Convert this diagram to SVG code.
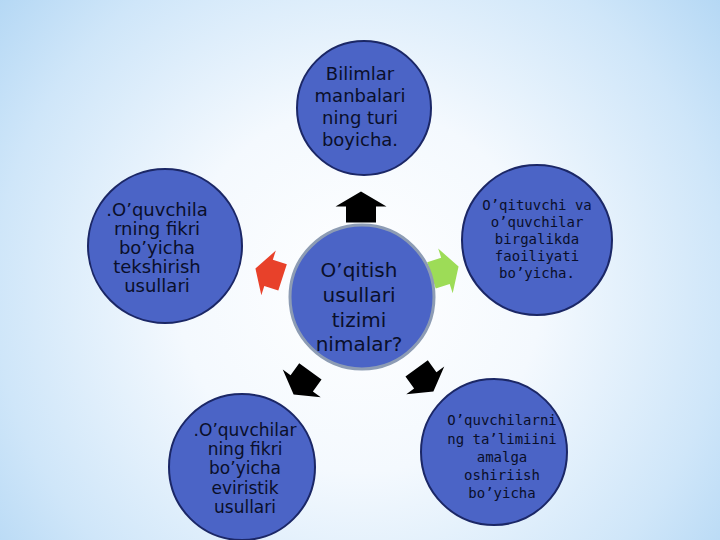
<svg xmlns="http://www.w3.org/2000/svg" width="720" height="540" viewBox="0 0 720 540">
  <defs>
    <radialGradient id="bg" cx="360" cy="290" r="520" gradientUnits="userSpaceOnUse">
      <stop offset="0" stop-color="#ffffff"/>
      <stop offset="0.35" stop-color="#f4f9fe"/>
      <stop offset="0.7" stop-color="#cfe6f9"/>
      <stop offset="1" stop-color="#a6d0f2"/>
    </radialGradient>
    <path id="arrow" d="M0,-15.5 L25.5,-0.5 L15,-0.5 L15,15.5 L-15,15.5 L-15,-0.5 L-25.5,-0.5 Z"/>
    <style>
      .node { fill: #4b64c6; stroke: #1b2766; stroke-width: 2; }
      .hub { fill: #4b64c6; stroke: #8d9cb4; stroke-width: 3; }
      .t { font-family: "DejaVu Sans", "Liberation Sans", sans-serif; fill: #0a0f2a; text-anchor: middle; }
      .m { font-family: "DejaVu Sans Mono", "Liberation Mono", monospace; fill: #0a0f2a; text-anchor: middle; font-size: 14px; }
    </style>
  </defs>
  <rect x="0" y="0" width="720" height="540" fill="url(#bg)"/>

  <g id="connectors">
    <use href="#arrow" fill="#000000" transform="translate(361,207)"/>
    <use href="#arrow" fill="#9ddc57" transform="translate(445,271) rotate(72) scale(0.92)"/>
    <use href="#arrow" fill="#000000" transform="translate(425,380) rotate(144) scale(0.92)"/>
    <use href="#arrow" fill="#000000" transform="translate(302,383) rotate(-144) scale(0.92)"/>
    <use href="#arrow" fill="#e8412a" transform="translate(269,273) rotate(-72) scale(0.92)"/>
  </g>

  <g id="node-top">
    <circle class="node" cx="364" cy="108" r="67"/>
    <text class="t" font-size="18" x="360" y="80">Bilimlar</text>
    <text class="t" font-size="18" x="360" y="102">manbalari</text>
    <text class="t" font-size="18" x="360" y="124">ning turi</text>
    <text class="t" font-size="18" x="360" y="146">boyicha.</text>
  </g>

  <g id="node-left">
    <circle class="node" cx="165" cy="246" r="77"/>
    <text class="t" font-size="18" x="157" y="216">.O’quvchila</text>
    <text class="t" font-size="18" x="157" y="235">rning fikri</text>
    <text class="t" font-size="18" x="157" y="254">bo’yicha</text>
    <text class="t" font-size="18" x="157" y="273">tekshirish</text>
    <text class="t" font-size="18" x="157" y="292">usullari</text>
  </g>

  <g id="node-center">
    <circle class="hub" cx="362" cy="297" r="72"/>
    <text class="t" font-size="20" x="359" y="277">O’qitish</text>
    <text class="t" font-size="20" x="359" y="302">usullari</text>
    <text class="t" font-size="20" x="359" y="327">tizimi</text>
    <text class="t" font-size="20" x="359" y="351">nimalar?</text>
  </g>

  <g id="node-right">
    <circle class="node" cx="537" cy="240" r="75"/>
    <text class="m" x="537" y="210">O’qituvchi va</text>
    <text class="m" x="537" y="227">o’quvchilar</text>
    <text class="m" x="537" y="244">birgalikda</text>
    <text class="m" x="537" y="261">faoiliyati</text>
    <text class="m" x="537" y="278">bo’yicha.</text>
  </g>

  <g id="node-bottom-left">
    <circle class="node" cx="242" cy="467" r="73"/>
    <text class="t" font-size="17" x="245" y="436">.O’quvchilar</text>
    <text class="t" font-size="17" x="245" y="455">ning fikri</text>
    <text class="t" font-size="17" x="245" y="474">bo’yicha</text>
    <text class="t" font-size="17" x="245" y="494">eviristik</text>
    <text class="t" font-size="17" x="245" y="513">usullari</text>
  </g>

  <g id="node-bottom-right">
    <circle class="node" cx="494" cy="452" r="73"/>
    <text class="m" x="502" y="425">O’quvchilarni</text>
    <text class="m" x="502" y="444">ng ta’limiini</text>
    <text class="m" x="502" y="462">amalga</text>
    <text class="m" x="502" y="480">oshiriish</text>
    <text class="m" x="502" y="498">bo’yicha</text>
  </g>
</svg>
